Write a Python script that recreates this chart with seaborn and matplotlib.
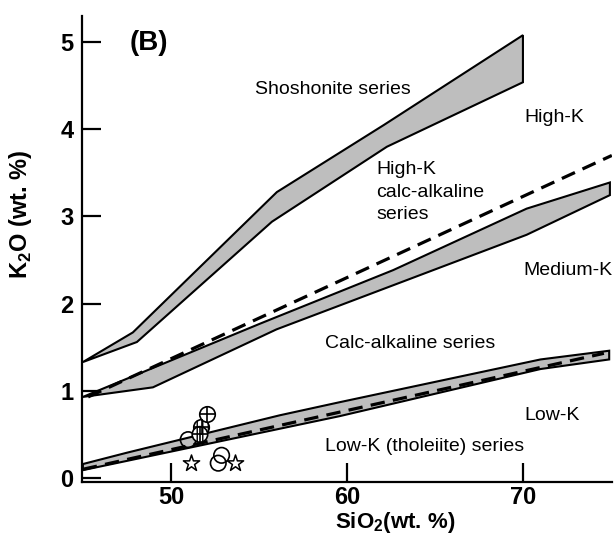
import matplotlib
matplotlib.use('Agg')
import matplotlib.pyplot as plt
import numpy as np
import pandas as pd
import seaborn as sns

# K2O vs SiO2 boundary bands
sho_up_x = [45.0, 47.84, 56.02, 62.1, 70.0]
sho_up_y = [1.33, 1.67, 3.28, 4.05, 5.08]
sho_lo_x = [45.0, 48.07, 55.74, 62.27, 70.0]
sho_lo_y = [1.33, 1.56, 2.94, 3.80, 4.54]

med_up_x = [45.0, 55.06, 62.63, 70.21, 74.94]
med_up_y = [0.93, 1.77, 2.385, 3.09, 3.39]
med_lo_x = [45.0, 48.98, 56.0, 70.21, 74.94]
med_lo_y = [0.93, 1.04, 1.705, 2.79, 3.245]

low_up_x = [45.0, 47.5, 56.2, 59.6, 71.0, 74.9]
low_up_y = [0.16, 0.29, 0.72, 0.87, 1.36, 1.46]
low_lo_x = [45.0, 59.6, 71.0, 74.9]
low_lo_y = [0.09, 0.71, 1.25, 1.36]

# dashed boundaries
dash_hi_x = [45.3, 75.05]
dash_hi_y = [0.93, 3.70]
dash_lo_x = [45.0, 74.6]
dash_lo_y = [0.10, 1.43]

# samples
circ_x = [50.98, 52.88, 52.69]
circ_y = [0.44, 0.26, 0.17]
hatch_x = [51.74, 51.65]
hatch_y = [0.58, 0.50]
cross_x = [52.06]
cross_y = [0.73]
star_x = [51.14, 53.64]
star_y = [0.17, 0.17]

region_names = ['Shoshonite series', 'High-K', 'High-K\ncalc-alkaline\nseries', 'Medium-K',
                'Calc-alkaline series', 'Low-K', 'Low-K (tholeiite) series']
x_ticks = [50, 60, 70]
y_ticks = [0, 1, 2, 3, 4, 5]

sns.set_theme(style='ticks')
plt.rcParams['font.family'] = ['Liberation Sans', 'DejaVu Sans']
plt.rcParams['mathtext.fontset'] = 'custom'
plt.rcParams['mathtext.rm'] = 'Liberation Sans'
plt.rcParams['mathtext.bf'] = 'Liberation Sans:bold'
plt.rcParams.update({'text.color': 'black', 'axes.labelcolor': 'black',
                     'xtick.color': 'black', 'ytick.color': 'black',
                     'axes.edgecolor': 'black'})

fig = plt.figure(figsize=(6.14, 5.34), dpi=100)
ax = fig.add_axes([82/614, 1 - 482/534, 530/614, 466/534])

band_col = '#bebebe'
for ux, uy, lx, ly in [(sho_up_x, sho_up_y, sho_lo_x, sho_lo_y),
                       (med_up_x, med_up_y, med_lo_x, med_lo_y),
                       (low_up_x, low_up_y, low_lo_x, low_lo_y)]:
    px = list(ux) + list(lx[::-1])
    py = list(uy) + list(ly[::-1])
    ax.fill(px, py, facecolor=band_col, edgecolor='black', linewidth=1.5, zorder=2)

for dx, dy in [(dash_hi_x, dash_hi_y), (dash_lo_x, dash_lo_y)]:
    df = pd.DataFrame({'x': dx, 'y': dy})
    sns.lineplot(data=df, x='x', y='y', ax=ax, color='black', linewidth=2.3,
                 dashes=False, sort=False, zorder=3).lines[-1].set_dashes((4.5, 2.6))

mk = 125
sns.scatterplot(x=circ_x, y=circ_y, ax=ax, marker='o', s=mk, facecolor='none',
                edgecolor='black', linewidth=1.2, zorder=4)
sns.scatterplot(x=hatch_x, y=hatch_y, ax=ax, marker='o', s=mk, facecolor='white',
                edgecolor='black', linewidth=1.2, hatch='|||', zorder=4)
sns.scatterplot(x=cross_x, y=cross_y, ax=ax, marker='o', s=mk, facecolor='white',
                edgecolor='black', linewidth=1.2, zorder=4)
ax.scatter(cross_x + hatch_x, cross_y + hatch_y, marker='+', s=mk, color='black',
           linewidth=1.2, zorder=5)
sns.scatterplot(x=star_x, y=star_y, ax=ax, marker='*', s=150, facecolor='white',
                edgecolor='black', linewidth=1.1, zorder=4)

# region names
pos = [(54.77, 4.46), (70.06, 4.13), (61.65, 3.28), (70.03, 2.385),
       (58.75, 1.54), (70.06, 0.72), (58.75, 0.36)]
for name, (tx, ty) in zip(region_names, pos):
    ax.text(tx, ty, name, fontsize=14, ha='left', va='center', linespacing=1.4, zorder=6)

ax.text(47.67, 4.99, '(B)', fontsize=20, fontweight='bold', ha='left', va='center')

ax.set_xlim(44.95, 75.06)
ax.set_ylim(-0.046, 5.30)
ax.set_xticks(x_ticks)
ax.set_yticks(y_ticks)
ax.tick_params(direction='in', length=14, width=1.6, labelsize=17)
ax.tick_params(axis='y', pad=6)
ax.tick_params(axis='x', pad=3)
for lab in ax.get_xticklabels() + ax.get_yticklabels():
    lab.set_fontweight('bold')

ax.set_xlabel(r'SiO$_\mathbf{2}$(wt. %)', fontsize=16, fontweight='bold')
ax.set_ylabel(r'K$_\mathbf{2}$O (wt. %)', fontsize=17, fontweight='bold')
ax.xaxis.set_label_coords(0.59, -0.061)
ax.yaxis.set_label_coords(-0.09, 0.574)

sns.despine(ax=ax)
for sp in ['left', 'bottom']:
    ax.spines[sp].set_linewidth(1.6)

fig.savefig('out.png', dpi=100)
